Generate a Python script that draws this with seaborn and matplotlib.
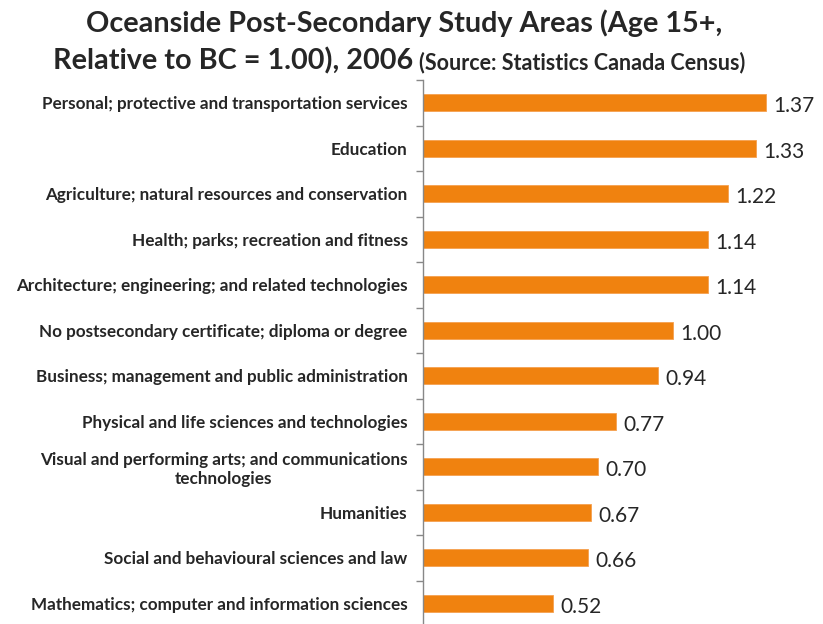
import numpy as np
import pandas as pd
import seaborn as sns
import matplotlib.pyplot as plt
from matplotlib.ticker import FixedLocator

# Data
areas = [
    'Personal; protective and transportation services',
    'Education',
    'Agriculture; natural resources and conservation',
    'Health; parks; recreation and fitness',
    'Architecture; engineering; and related technologies',
    'No postsecondary certificate; diploma or degree',
    'Business; management and public administration',
    'Physical and life sciences and technologies',
    'Visual and performing arts; and communications\ntechnologies',
    'Humanities',
    'Social and behavioural sciences and law',
    'Mathematics; computer and information sciences',
]
ratios = [1.37, 1.33, 1.22, 1.14, 1.14, 1.00, 0.94, 0.77, 0.70, 0.67, 0.66, 0.52]

df = pd.DataFrame({'area': areas, 'ratio': ratios})

sns.set_style('white')
plt.rcParams['font.family'] = ['Lato', 'DejaVu Sans']

fig = plt.figure(figsize=(8.23, 6.24), dpi=100)
ax = fig.add_axes([423 / 823, -2 / 624, 1 - 423 / 823, 546 / 624])

sns.barplot(data=df, y='area', x='ratio', orient='h', color='#F0820F',
            width=0.38, saturation=1, edgecolor='#F5A050', linewidth=0.6, ax=ax)

ax.set_xlim(0, 1.6)
ax.set_ylim(len(areas) - 0.5, -0.5)
ax.set_xlabel('')
ax.set_ylabel('')
ax.set_xticks([])

for s in ['top', 'right', 'bottom']:
    ax.spines[s].set_visible(False)
ax.spines['left'].set_color('#888888')
ax.spines['left'].set_linewidth(1)

# small ticks between the categories
ax.yaxis.set_minor_locator(FixedLocator(np.arange(-0.5, len(areas), 1)))
ax.tick_params(axis='y', which='major', length=0, pad=11)
ax.tick_params(axis='y', which='minor', length=5, color='#888888', width=1, left=True)
for lab in ax.get_yticklabels():
    lab.set_fontweight('bold')
    lab.set_fontsize(12.3)
    lab.set_multialignment('center')

for i, v in enumerate(ratios):
    ax.text(v + 0.03, i + 0.08, f'{v:.2f}', va='center', ha='left', fontsize=15)

fig.text(404 / 823, 1 - 23 / 624, 'Oceanside Post-Secondary Study Areas (Age 15+,',
         ha='center', va='center', fontsize=20.7, fontweight='bold')
fig.text(413 / 823, 1 - 61 / 624, 'Relative to BC = 1.00), 2006',
         ha='right', va='center', fontsize=20.7, fontweight='bold')
fig.text(419 / 823, 1 - 63 / 624, '(Source: Statistics Canada Census)',
         ha='left', va='center', fontsize=15.5, fontweight='bold')

fig.savefig('out.png', dpi=100)
